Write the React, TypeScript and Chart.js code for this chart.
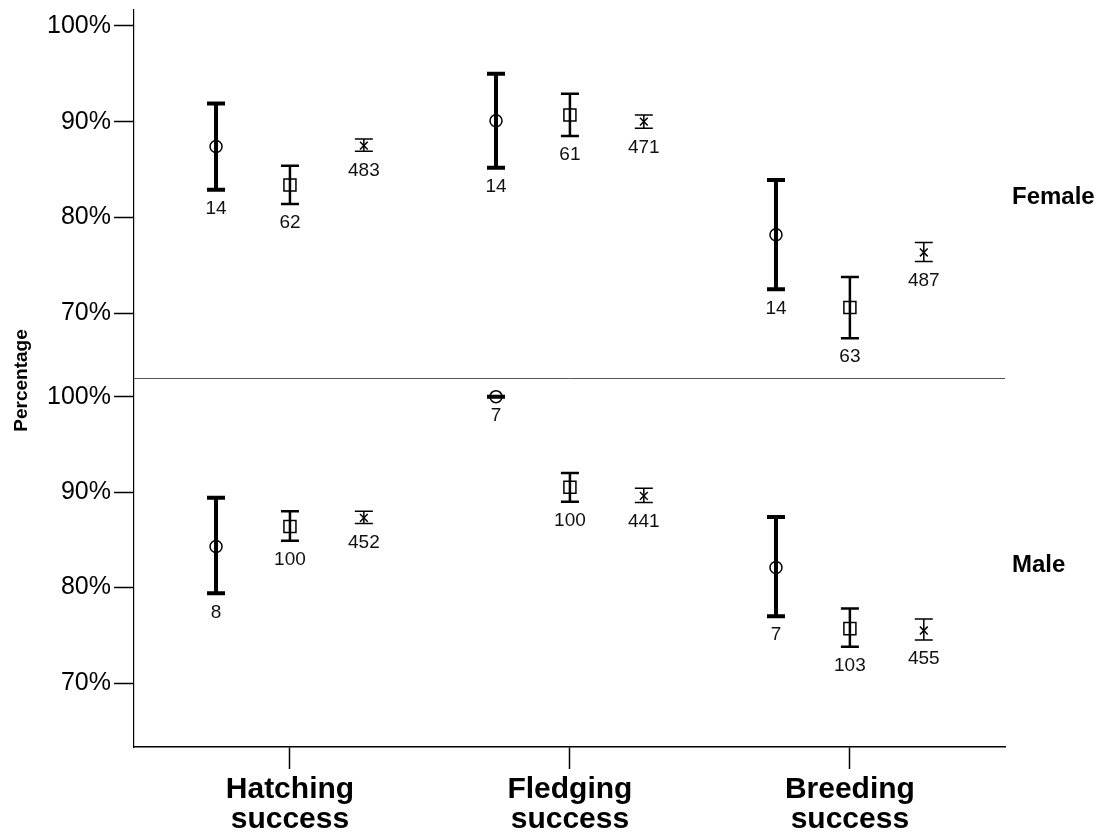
import React, { useEffect, useRef } from "react";
import { Chart, registerables } from "chart.js";

Chart.register(...registerables);

// ---------- data ----------
const categories = [
  ["Hatching", "success"],
  ["Fledging", "success"],
  ["Breeding", "success"],
];
const panelNames = ["Female", "Male"];
const yTickValues = [70, 80, 90, 100];
const groupOffsets = [-0.264, 0, 0.264];

// Female
const femaleCircleMean = [87.4, 90.1, 78.2];
const femaleCircleLow = [82.9, 85.2, 72.5];
const femaleCircleHigh = [91.9, 95.0, 83.9];
const femaleCircleN = [14, 14, 14];

const femaleSquareMean = [83.4, 90.7, 70.6];
const femaleSquareLow = [81.4, 88.5, 67.4];
const femaleSquareHigh = [85.4, 92.9, 73.8];
const femaleSquareN = [62, 61, 63];

const femaleStarMean = [87.5, 90.0, 76.35];
const femaleStarLow = [86.9, 89.3, 75.4];
const femaleStarHigh = [88.2, 90.7, 77.4];
const femaleStarN = [483, 471, 487];

// Male
const maleCircleMean = [84.3, 100, 82.1];
const maleCircleLow = [79.4, 100, 77.0];
const maleCircleHigh = [89.4, 100, 87.4];
const maleCircleN = [8, 7, 7];

const maleSquareMean = [86.4, 90.5, 75.7];
const maleSquareLow = [84.9, 89.0, 73.8];
const maleSquareHigh = [88.0, 92.0, 77.8];
const maleSquareN = [100, 100, 103];

const maleStarMean = [87.3, 89.6, 75.5];
const maleStarLow = [86.7, 88.9, 74.5];
const maleStarHigh = [88.0, 90.4, 76.7];
const maleStarN = [452, 441, 455];

// axis ranges per panel
const panelMin = [63.2, 63.3];
const panelMax = [101.65, 101.9];

// ---------- styling ----------
const FONT = "'Liberation Sans', Arial, Helvetica, sans-serif";

type Series = {
  panel: number;
  group: number;
  mean: number[];
  low: number[];
  high: number[];
  n: number[];
};

const seriesList: Series[] = [
  { panel: 0, group: 0, mean: femaleCircleMean, low: femaleCircleLow, high: femaleCircleHigh, n: femaleCircleN },
  { panel: 0, group: 1, mean: femaleSquareMean, low: femaleSquareLow, high: femaleSquareHigh, n: femaleSquareN },
  { panel: 0, group: 2, mean: femaleStarMean, low: femaleStarLow, high: femaleStarHigh, n: femaleStarN },
  { panel: 1, group: 0, mean: maleCircleMean, low: maleCircleLow, high: maleCircleHigh, n: maleCircleN },
  { panel: 1, group: 1, mean: maleSquareMean, low: maleSquareLow, high: maleSquareHigh, n: maleSquareN },
  { panel: 1, group: 2, mean: maleStarMean, low: maleStarLow, high: maleStarHigh, n: maleStarN },
];

const groupStyles = [
  { pointStyle: "circle", radius: 6, barWidth: 4 },
  { pointStyle: "rect", radius: 8.5, barWidth: 2.5 },
  { pointStyle: "crossRot", radius: 5.5, barWidth: 1.5 },
];

const axisIds = ["yF", "yM"];

export default function App() {
  const ref = useRef<HTMLCanvasElement | null>(null);

  useEffect(() => {
    document.body.style.margin = "0";
    const canvas = ref.current;
    if (!canvas) return;

    const datasets = seriesList.map((s) => {
      const st = groupStyles[s.group];
      return {
        label: panelNames[s.panel] + s.group,
        yAxisID: axisIds[s.panel],
        data: s.mean.map((m, i) => ({ x: i + groupOffsets[s.group], y: m })),
        pointStyle: st.pointStyle as any,
        pointRadius: st.radius,
        pointBorderWidth: 1.5,
        pointBorderColor: "#000",
        pointBackgroundColor: "rgba(0,0,0,0)",
        showLine: false,
      };
    });

    const errorPlugin = {
      id: "errorBars",
      beforeDatasetsDraw(chart: any) {
        const ctx = chart.ctx;
        const xs = chart.scales.x;
        ctx.save();
        ctx.strokeStyle = "#000";
        seriesList.forEach((s) => {
          const ys = chart.scales[axisIds[s.panel]];
          const st = groupStyles[s.group];
          ctx.lineWidth = st.barWidth;
          s.mean.forEach((_m, i) => {
            const px = xs.getPixelForValue(i + groupOffsets[s.group]);
            const yl = ys.getPixelForValue(s.low[i]);
            const yh = ys.getPixelForValue(s.high[i]);
            ctx.beginPath();
            ctx.moveTo(px, yl);
            ctx.lineTo(px, yh);
            ctx.moveTo(px - 9, yl);
            ctx.lineTo(px + 9, yl);
            ctx.moveTo(px - 9, yh);
            ctx.lineTo(px + 9, yh);
            ctx.stroke();
          });
        });
        ctx.restore();
      },
      afterDraw(chart: any) {
        const ctx = chart.ctx;
        const xs = chart.scales.x;
        const area = chart.chartArea;
        ctx.save();
        // n labels
        ctx.fillStyle = "#111";
        ctx.font = `19px ${FONT}`;
        ctx.textAlign = "center";
        ctx.textBaseline = "middle";
        seriesList.forEach((s) => {
          const ys = chart.scales[axisIds[s.panel]];
          s.n.forEach((n, i) => {
            const px = xs.getPixelForValue(i + groupOffsets[s.group]);
            const yl = ys.getPixelForValue(s.low[i]);
            ctx.fillText(String(n), px, yl + 19);
          });
        });
        // divider between panels
        const top = chart.scales.yF;
        ctx.strokeStyle = "#555";
        ctx.lineWidth = 1;
        ctx.beginPath();
        ctx.moveTo(area.left, Math.round(top.bottom) - 0.5);
        ctx.lineTo(area.right, Math.round(top.bottom) - 0.5);
        ctx.stroke();
        // panel labels
        ctx.fillStyle = "#000";
        ctx.font = `bold 24px ${FONT}`;
        ctx.textAlign = "left";
        axisIds.forEach((id, k) => {
          const sc = chart.scales[id];
          ctx.fillText(panelNames[k], area.right + 7, (sc.top + sc.bottom) / 2 + 3);
        });
        // y title
        ctx.font = `bold 19px ${FONT}`;
        ctx.textAlign = "center";
        ctx.translate(22, (area.top + area.bottom) / 2 + 2);
        ctx.rotate(-Math.PI / 2);
        ctx.fillText("Percentage", 0, 0);
        ctx.restore();
      },
    };

    const yAxis = (panel: number, weight: number) => ({
      type: "linear" as const,
      position: "left" as const,
      stack: "panels",
      stackWeight: 1,
      weight,
      min: panelMin[panel],
      max: panelMax[panel],
      afterBuildTicks: (scale: any) => {
        scale.ticks = yTickValues.map((v) => ({ value: v }));
      },
      afterFit: (scale: any) => {
        scale.width = 134;
      },
      ticks: {
        color: "#000",
        padding: 3,
        font: { family: FONT, size: 25, lineHeight: 0.5 },
        callback: (v: any) => v + "%",
      },
      grid: {
        drawOnChartArea: false,
        drawTicks: true,
        tickLength: 20,
        tickWidth: 1.5,
        tickColor: "#000",
      },
      border: { display: true, color: "#000", width: 1.2 },
    });

    const chart = new Chart(canvas, {
      type: "scatter",
      data: { datasets: datasets as any },
      options: {
        responsive: false,
        animation: false,
        layout: { padding: { top: 10, right: 102, left: 0, bottom: 0 } },
        plugins: {
          legend: { display: false },
          tooltip: { enabled: false },
        },
        scales: {
          x: {
            type: "linear",
            position: "bottom",
            min: -0.557,
            max: 2.554,
            afterBuildTicks: (scale: any) => {
              scale.ticks = categories.map((_c, i) => ({ value: i }));
            },
            afterFit: (scale: any) => {
              scale.height = 92;
            },
            ticks: {
              color: "#000",
              padding: 6,
              maxRotation: 0,
              autoSkip: false,
              font: { family: FONT, size: 30, weight: "bold", lineHeight: 1.0 },
              callback: (v: any) => categories[Math.round(v)] as any,
            },
            grid: {
              drawOnChartArea: false,
              drawTicks: true,
              tickLength: 22,
              tickWidth: 1.5,
              tickColor: "#000",
            },
            border: { display: true, color: "#000", width: 1.5 },
          },
          yM: yAxis(1, 1) as any,
          yF: yAxis(0, 2) as any,
        },
      },
      plugins: [errorPlugin],
    });

    return () => chart.destroy();
  }, []);

  return (
    <div style={{ width: 1107, height: 839 }}>
      <canvas ref={ref} width={1107} height={839} style={{ display: "block" }} />
    </div>
  );
}
